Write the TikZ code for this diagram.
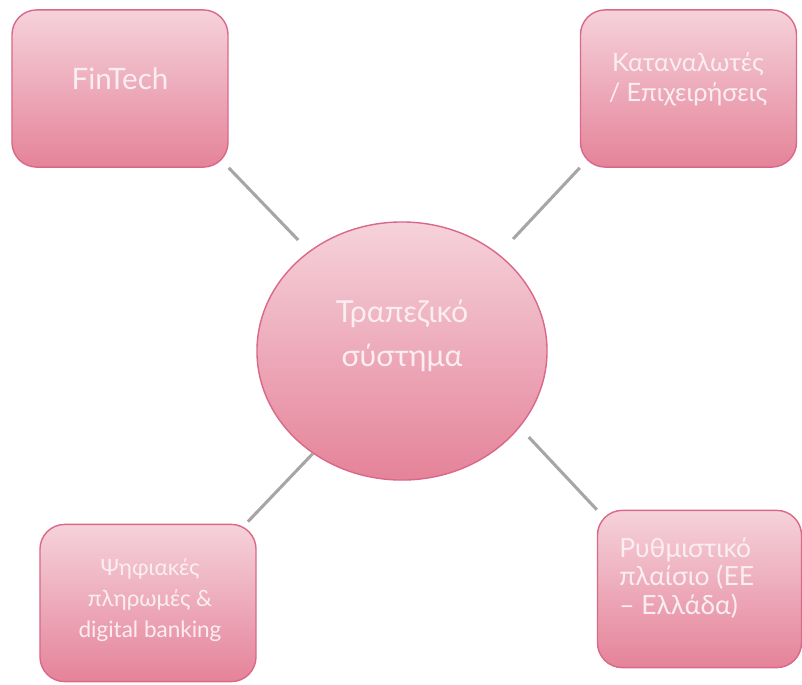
\documentclass[tikz,border=0pt]{standalone}
\usepackage{fontspec}
\setmainfont{Lato}
\usetikzlibrary{positioning,shapes.geometric}

\definecolor{pinktop}{RGB}{245,210,219}
\definecolor{pinkbot}{RGB}{229,131,153}
\definecolor{pinkedge}{RGB}{217,104,137}
\definecolor{linkgray}{RGB}{166,166,166}
\definecolor{txtcol}{RGB}{251,238,242}

\tikzset{
  box/.style={draw=pinkedge, line width=1pt, rounded corners=0.62cm,
    top color=pinktop, bottom color=pinkbot,
    minimum width=5.4cm, minimum height=3.93cm, inner sep=0pt},
  hub/.style={ellipse, draw=pinkedge, line width=1pt,
    top color=pinktop, bottom color=pinkbot,
    minimum width=7.25cm, minimum height=6.45cm, inner sep=0pt},
  link/.style={draw=linkgray, line width=2.2pt},
  txt/.style={text=txtcol, align=center, inner sep=0pt}
}

\begin{document}
\begin{tikzpicture}[x=0.025cm,y=-0.025cm]
\useasboundingbox (0,0) rectangle (802,684);

% shapes
\node[hub] (core) at (402,351) {};
\node[box] (fin) at (120,88.5) {};
\node[box] (users) at (688.5,88.5) {};
\node[box] (pay) at (148,603) {};
\node[box, minimum width=5.1cm] (rules) at (699.5,589) {};

% texts
\node[txt, font=\fontsize{21}{24}\selectfont] (fintxt) at (120,79) {FinTech};
\node[txt, font=\fontsize{18}{21.3}\selectfont] (userstxt) at (688,79)
  {Καταναλωτές\\/ Επιχειρήσεις};
\node[txt, font=\fontsize{21.5}{31}\selectfont] (coretxt) at (402,336)
  {Τραπεζικό\\σύστημα};
\node[txt, font=\fontsize{16}{22}\selectfont] (paytxt) at (150,600)
  {Ψηφιακές\\πληρωμές \&\\digital banking};
\node[txt, align=left, anchor=west, font=\fontsize{18.8}{20.3}\selectfont] (rulestxt) at (619,578)
  {Ρυθμιστικό\\πλαίσιο (ΕΕ\\– Ελλάδα)};

% connectors
\draw[link, shorten >=11pt] (fin.south east) -- (core.133);
\draw[link, shorten >=14.7pt] (users.south west) -- (core.45);
\draw[link, shorten >=2pt] (core.-131) -- (pay.39);
\draw[link, shorten <=9.4pt] (core.-33) -- (rules.north west);
\end{tikzpicture}
\end{document}
